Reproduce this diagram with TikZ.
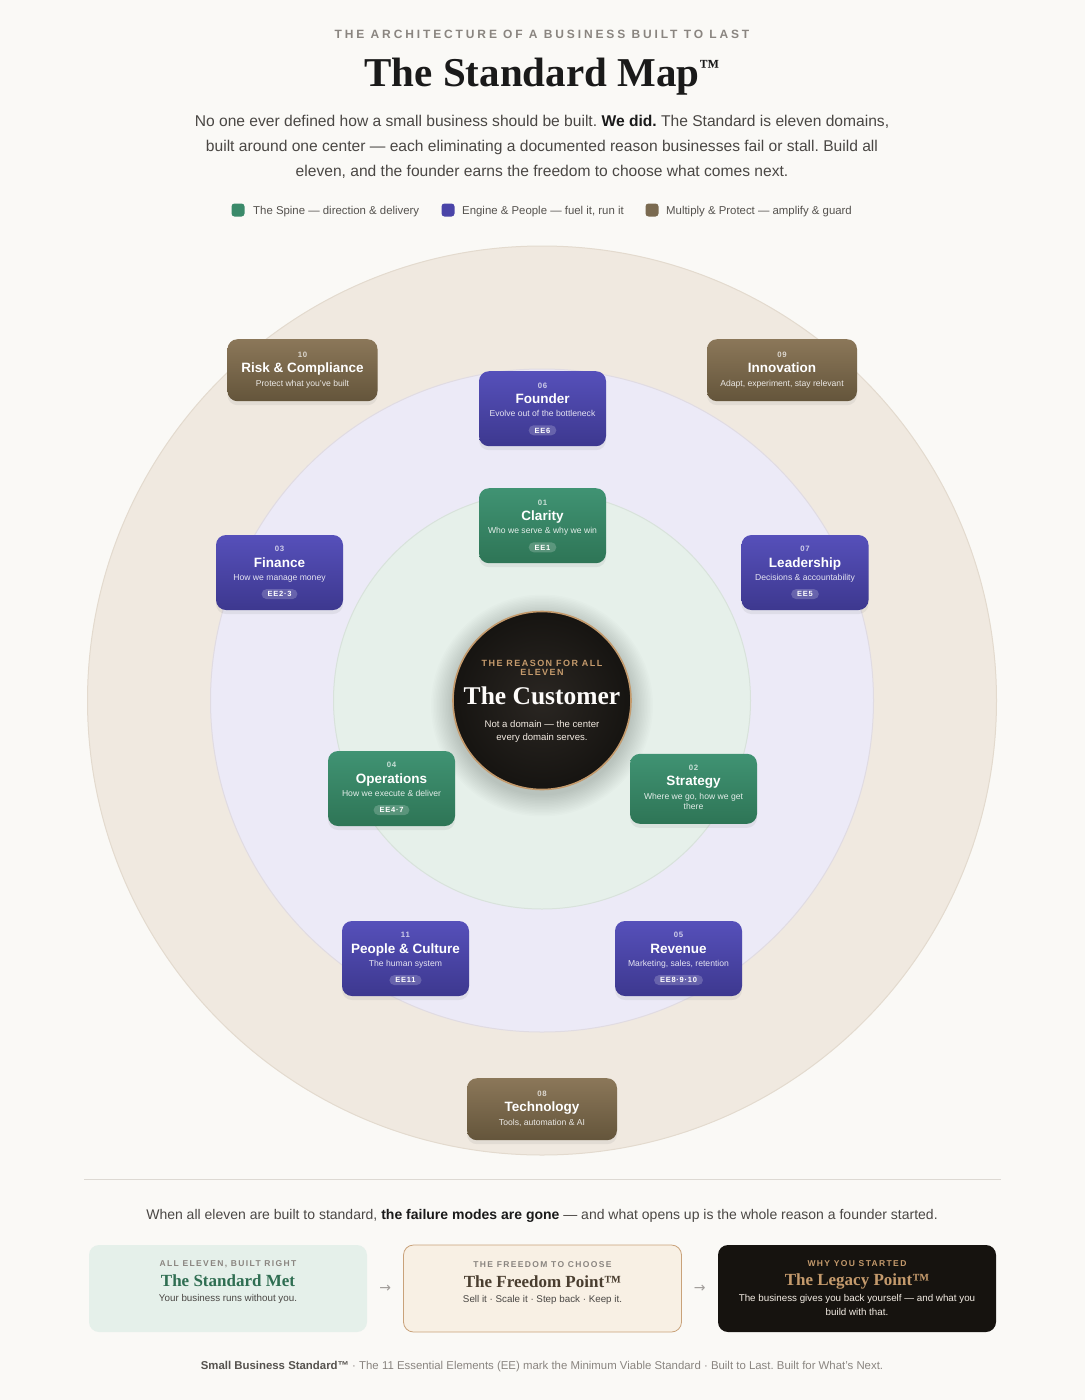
\documentclass[tikz,border=0pt]{standalone}
\usepackage{fontspec}
\setmainfont{Liberation Sans}
\newfontfamily\serifb{Liberation Serif}
\newfontfamily\spA[LetterSpace=24]{Liberation Sans}
\newfontfamily\spB[LetterSpace=16]{Liberation Sans}
\newfontfamily\spC[LetterSpace=10]{Liberation Sans}
\newfontfamily\arrf{DejaVu Sans}
\usetikzlibrary{shadows,calc}
\newcommand\fs[2]{\fontsize{#1}{#2}\selectfont}
\definecolor{bg}{HTML}{FAF9F6}
\definecolor{ringA}{HTML}{F0E9E0}
\definecolor{ringAl}{HTML}{E3DACE}
\definecolor{ringB}{HTML}{ECEAF7}
\definecolor{ringBl}{HTML}{E0DBE2}
\definecolor{ringC}{HTML}{E6F0EA}
\definecolor{ringCl}{HTML}{D8E2DB}
\definecolor{coreIn}{HTML}{2A2622}
\definecolor{coreOut}{HTML}{161411}
\definecolor{gold}{HTML}{C49A6C}
\definecolor{purT}{HTML}{5650BA}
\definecolor{purB}{HTML}{3D388F}
\definecolor{grnT}{HTML}{409373}
\definecolor{grnB}{HTML}{2E7556}
\definecolor{brnT}{HTML}{8B7759}
\definecolor{brnB}{HTML}{64553B}
\definecolor{spine}{HTML}{3A8A6A}
\definecolor{engine}{HTML}{4A44A8}
\definecolor{mult}{HTML}{7A6A50}
\definecolor{hdgray}{HTML}{8A8580}
\definecolor{ink}{HTML}{1A1A1A}
\definecolor{para}{HTML}{4A4744}
\definecolor{legtx}{HTML}{55524E}
\definecolor{mint}{HTML}{E5F0EA}
\definecolor{cream}{HTML}{F8F0E4}
\definecolor{creaml}{HTML}{C9A27A}
\definecolor{night}{HTML}{16130F}
\definecolor{stdgreen}{HTML}{2F6E52}
\definecolor{frbrown}{HTML}{4A3E30}
\definecolor{divl}{HTML}{DDD9D3}
\tikzset{
  base/.style={anchor=base, inner sep=0pt},
  dbox/.style={rounded corners=10pt, minimum width=127pt, minimum height=75pt, inner sep=0pt,
    drop shadow={opacity=0.12, shadow xshift=0pt, shadow yshift=-4pt}},
  engbox/.style={dbox, top color=purT, bottom color=purB},
  spinebox/.style={dbox, top color=grnT, bottom color=grnB},
  multbox/.style={dbox, top color=brnT, bottom color=brnB, minimum width=150pt, minimum height=62pt},
  numtx/.style={base, text=white, text opacity=0.72, font=\spC\bfseries\fs{7.8}{9}},
  titletx/.style={base, text=white, font=\bfseries\fs{13.5}{16}},
  subtx/.style={base, text=white, text opacity=0.86, font=\fs{8.6}{10}},
  tagtx/.style={fill=white, fill opacity=0.2, text opacity=1, text=white, rounded corners=5pt,
    minimum height=10pt, inner xsep=6pt, inner ysep=0pt, text height=5.4pt, text depth=0pt,
    font=\spC\bfseries\fs{7.5}{8}},
  legsq/.style={rounded corners=3pt, minimum size=13pt, inner sep=0pt},
  legtxt/.style={anchor=base west, inner sep=0pt, text=legtx, font=\fs{11.4}{13}},
  bbox/.style={rounded corners=10pt, minimum width=278pt, minimum height=87pt, inner sep=0pt},
  blabel/.style={base, font=\spB\bfseries\fs{8.5}{10}},
  btitle/.style={base, font=\serifb\bfseries\fs{17}{20}},
  bsub/.style={base, font=\fs{9.8}{12}},
}
\newcommand\dom[7]{%
  \node[#2] (#1) at #3 {};
  \node[numtx] (#1-n) at ($(#1.center)+(0,-20.7)$) {#4};
  \node[titletx] (#1-t) at ($(#1.center)+(0,-5.4)$) {#5};
  \node[subtx] (#1-s) at ($(#1.center)+(0,7.6)$) {#6};
  \node[tagtx] (#1-g) at ($(#1.center)+(0,21.6)$) {#7};
}
\newcommand\mdom[5]{%
  \node[multbox] (#1) at #2 {};
  \node[numtx] (#1-n) at ($(#1.center)+(0,-12.5)$) {#3};
  \node[titletx] (#1-t) at ($(#1.center)+(0,2.5)$) {#4};
  \node[subtx] (#1-s) at ($(#1.center)+(0,15.8)$) {#5};
}
\frenchspacing
\begin{document}
\frenchspacing
\begin{tikzpicture}[x=1pt,y=-1pt]
\useasboundingbox[fill=bg] (0,0) rectangle (1085,1400);

% header
\node[base, text=hdgray, font=\spA\bfseries\fs{12}{14}] (kicker) at (542,38.5) {THE ARCHITECTURE OF A BUSINESS BUILT TO LAST};
\node[base, text=ink, font=\serifb\bfseries\fs{41}{46}] (title) at (542,86) {The Standard Map{\fs{20}{20}\raisebox{13pt}{™}}};
\node[base, text=para, font=\fs{15.6}{18}] (p1) at (542,126) {No one ever defined how a small business should be built. {\bfseries\color{ink}We did.} The Standard is eleven domains,};
\node[base, text=para, font=\fs{15.6}{18}] (p2) at (542,151) {built around one center — each eliminating a documented reason businesses fail or stall. Build all};
\node[base, text=para, font=\fs{15.6}{18}] (p3) at (542,176) {eleven, and the founder earns the freedom to choose what comes next.};

% legend
\node[legsq, fill=spine] (lg1) at (238,210) {};
\node[legtxt] (lt1) at (253,214) {The Spine — direction \& delivery};
\node[legsq, fill=engine] (lg2) at (448,210) {};
\node[legtxt] (lt2) at (462,214) {Engine \& People — fuel it, run it};
\node[legsq, fill=mult] (lg3) at (652,210) {};
\node[legtxt] (lt3) at (666,214) {Multiply \& Protect — amplify \& guard};

% rings
\coordinate (C) at (542,700.5);
\fill[ringA, draw=ringAl, line width=1pt] (C) circle (454.5);
\fill[ringB, draw=ringBl, line width=1pt] (C) circle (331.5);
\fill[ringC, draw=ringCl, line width=1pt] (C) circle (208.5);

% core glow
\foreach \r in {90,91.5,...,112}{
  \fill[black, opacity=0.012] ($(C)+(0,5)$) circle (\r);
}
% core
\node[circle, minimum size=178pt, inner sep=0pt, inner color=coreIn, outer color=coreOut,
  draw=gold, line width=1.6pt] (core) at (C) {};
\node[base, text=gold, font=\spB\bfseries\fs{9}{10}] (c1) at (542,666) {THE REASON FOR ALL};
\node[base, text=gold, font=\spB\bfseries\fs{9}{10}] (c2) at (542,675.5) {ELEVEN};
\node[base, text=white!96!gold, font=\serifb\bfseries\fs{25.5}{28}] (c3) at (542,704.5) {The Customer};
\node[base, text=white!80!gold, font=\fs{9.6}{11}] (c4) at (542,727.5) {Not a domain — the center};
\node[base, text=white!80!gold, font=\fs{9.6}{11}] (c5) at (542,740.5) {every domain serves.};

% domains
\mdom{risk}{(302.5,370.2)}{10}{Risk \& Compliance}{Protect what you've built}
\mdom{innov}{(782,370.2)}{09}{Innovation}{Adapt, experiment, stay relevant}
\mdom{tech}{(542,1109.2)}{08}{Technology}{Tools, automation \& AI}
\dom{founder}{engbox}{(542.5,408.7)}{06}{Founder}{Evolve out of the bottleneck}{EE6}
\dom{clarity}{spinebox}{(542.5,525.7)}{01}{Clarity}{Who we serve \& why we win}{EE1}
\dom{finance}{engbox}{(279.5,572.5)}{03}{Finance}{How we manage money}{EE2·3}
\dom{leader}{engbox}{(805,572.5)}{07}{Leadership}{Decisions \& accountability}{EE5}
\dom{ops}{spinebox}{(391.5,788.5)}{04}{Operations}{How we execute \& deliver}{EE4·7}
\dom{people}{engbox}{(405.5,958.5)}{11}{People \& Culture}{The human system}{EE11}
\dom{revenue}{engbox}{(678.5,958.5)}{05}{Revenue}{Marketing, sales, retention}{EE8·9·10}
\node[spinebox, minimum height=70pt] (strat) at (693.5,788.8) {};
\node[numtx] (strat-n) at ($(strat.center)+(0,-18.7)$) {02};
\node[titletx] (strat-t) at ($(strat.center)+(0,-3)$) {Strategy};
\node[subtx] (strat-s1) at ($(strat.center)+(0,10.3)$) {Where we go, how we get};
\node[subtx] (strat-s2) at ($(strat.center)+(0,20.3)$) {there};

% divider
\coordinate (dl) at (84,1179);
\coordinate (dr) at (1001,1179);
\draw[divl, line width=0.8pt] (dl) -- (dr);

\node[base, text=para, font=\fs{14}{17}] (sent) at (542,1219) {When all eleven are built to standard, {\bfseries\color{ink}the failure modes are gone} — and what opens up is the whole reason a founder started.};

% bottom boxes
\node[bbox, fill=mint] (b1) at (228,1288.5) {};
\node[bbox, fill=cream, draw=creaml, line width=0.8pt] (b2) at (542.5,1288.5) {};
\node[bbox, fill=night] (b3) at (857,1288.5) {};
\node[text=hdgray!80, font=\arrf\fs{14}{16}] (a1) at ($(b1.east)!0.5!(b2.west)$) {→};
\node[text=hdgray!80, font=\arrf\fs{14}{16}] (a2) at ($(b2.east)!0.5!(b3.west)$) {→};

\node[blabel, text=hdgray] (b1l) at (228,1266) {ALL ELEVEN, BUILT RIGHT};
\node[btitle, text=stdgreen] (b1t) at (228,1286) {The Standard Met};
\node[bsub, text=para] (b1s) at (228,1301.5) {Your business runs without you.};

\node[blabel, text=hdgray] (b2l) at (542.5,1267) {THE FREEDOM TO CHOOSE};
\node[btitle, text=frbrown] (b2t) at (542.5,1287) {The Freedom Point™};
\node[bsub, text=para] (b2s) at (542.5,1302.5) {Sell it · Scale it · Step back · Keep it.};

\node[blabel, text=gold] (b3l) at (857,1266) {WHY YOU STARTED};
\node[btitle, text=gold] (b3t) at (857,1285) {The Legacy Point™};
\node[bsub, text=white!82!gold] (b3s1) at (857,1301.5) {The business gives you back yourself — and what you};
\node[bsub, text=white!82!gold] (b3s2) at (857,1315.5) {build with that.};

% footer
\node[base, text=hdgray, font=\fs{11.4}{13}] (foot) at (542,1369) {{\bfseries\color{legtx}Small Business Standard™} · The 11 Essential Elements (EE) mark the Minimum Viable Standard · Built to Last. Built for What's Next.};
\end{tikzpicture}
\end{document}
